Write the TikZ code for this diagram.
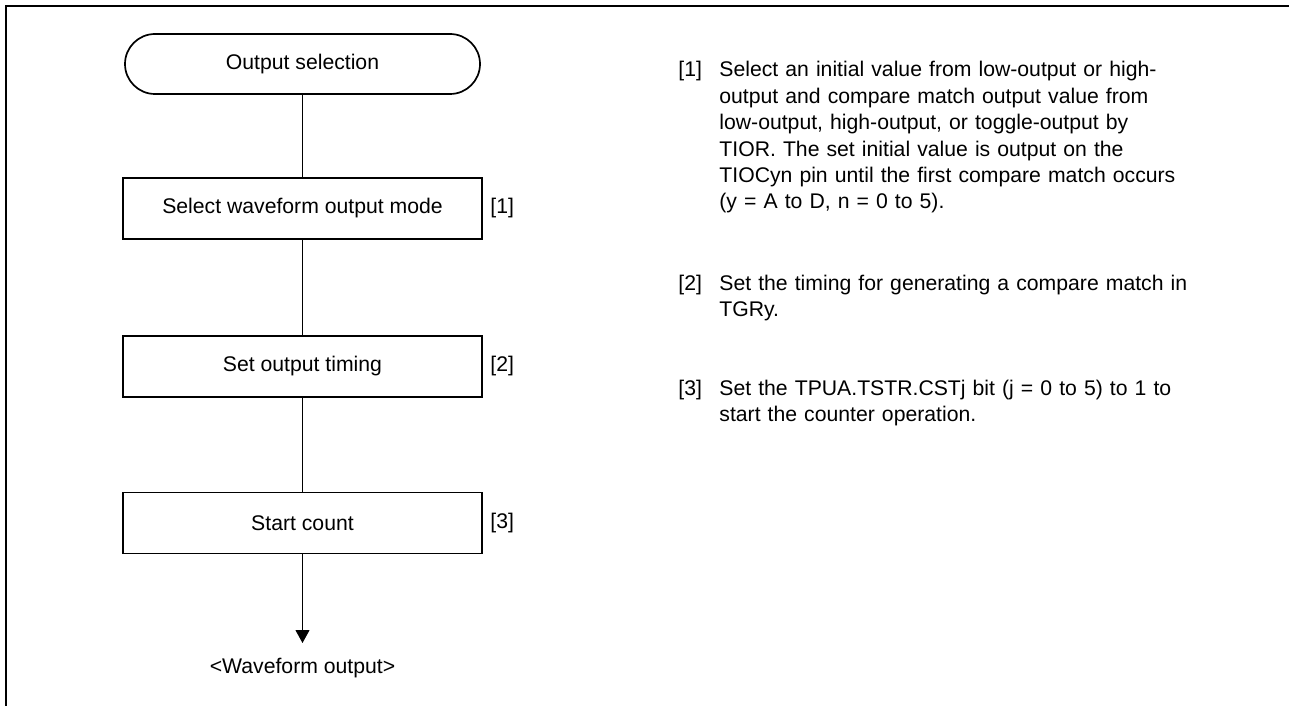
\documentclass[tikz,border=0pt]{standalone}
\usepackage{fontspec}
\setmainfont{Liberation Sans}
\usetikzlibrary{arrows.meta}

\begin{document}
\begin{tikzpicture}[x=0.5pt,y=0.5pt,yscale=-1,
  every node/.style={font=\fontsize{10.6}{13.2}\selectfont},
  termbox/.style={draw,line width=0.85,rounded corners=15pt,minimum width=177.5pt,minimum height=30pt,inner sep=0pt},
  stepbox/.style={draw,line width=0.85,minimum width=179.5pt,minimum height=30.5pt,inner sep=0pt},
  tag/.style={anchor=west,inner sep=0pt},
  note/.style={anchor=base west,inner sep=0pt,text width=245pt,align=left},
  link/.style={line width=0.5}]

\useasboundingbox (0,0) rectangle (1289,706);

%Frame
\draw [line width=1.2]    (6,706) -- (6,6) -- (1289,6) ;

%Terminal
\node [termbox] (sel) at (302.5,64) {Output selection};
%Steps
\node [stepbox] (mode) at (302.5,208.5) {Select waveform output mode};
\node [stepbox] (timing) at (302.5,366.5) {Set output timing};
\node [stepbox] (count) at (302.5,523) {Start count};
\coordinate (tip) at (302.5,643);
% Text Node
\node [anchor=base,inner sep=0pt] (wave) at (302.5,673) {<Waveform output>};

% Step tags
\node [tag] (t1) at (490,208.5) {[1]};
\node [tag] (t2) at (490,366.5) {[2]};
\node [tag] (t3) at (490,523) {[3]};

%Connectors
\draw [link] (sel) -- (mode) ;
\draw [link] (mode) -- (timing) ;
\draw [link] (timing) -- (count) ;
\draw [link,-{Triangle[width=7pt,length=6.5pt]}] (count) -- (tip) ;

% Notes
\node [anchor=base west,inner sep=0pt] (n1) at (678,77) {[1]};
\node [note] (d1) at (719,77) {Select an initial value from low-output or high-\\output and compare match output value from\\low-output, high-output, or toggle-output by\\TIOR. The set initial value is output on the\\TIOCyn pin until the first compare match occurs\\(y = A to D, n = 0 to 5).};
\node [anchor=base west,inner sep=0pt] (n2) at (678,290) {[2]};
\node [note] (d2) at (719,290) {Set the timing for generating a compare match in\\TGRy.};
\node [anchor=base west,inner sep=0pt] (n3) at (678,395) {[3]};
\node [note] (d3) at (719,395) {Set the TPUA.TSTR.CSTj bit (j = 0 to 5) to 1 to\\start the counter operation.};

\end{tikzpicture}
\end{document}
